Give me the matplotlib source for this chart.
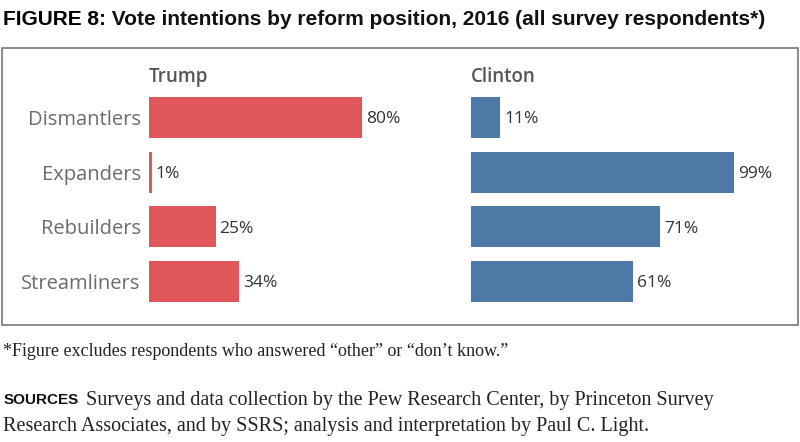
import matplotlib
matplotlib.use("Agg")
from matplotlib import pyplot as plt
from matplotlib.patches import Rectangle

categories = ["Dismantlers", "Expanders", "Rebuilders", "Streamliners"]
trump = [80, 1, 25, 34]
clinton = [11, 99, 71, 61]
candidates = ["Trump", "Clinton"]
colors = ["#E15759", "#4E79A7"]

fig = plt.figure(figsize=(8, 4.42), dpi=100)
renderer = fig.canvas.get_renderer()


def text_after(prev, s, gap_px, **kw):
    # put a text right after another one on the same line
    bb = prev.get_window_extent(renderer=renderer)
    x = (bb.x1 + gap_px) / fig.bbox.width
    return fig.text(x, prev.get_position()[1], s, **kw)


head = "Liberation Sans"
t1 = fig.text(0.004, 0.955, "FIGURE 8", family=head, weight="bold", fontsize=15,
              va="center", ha="left")
text_after(t1, ": Vote intentions by reform position, 2016 (all survey respondents*)", 0,
           family=head, weight="bold", fontsize=15, va="center", ha="left", color="#111111")

# frame around the chart area
fig.patches.append(Rectangle((0.002, 0.265), 0.996, 0.627, transform=fig.transFigure,
                             fill=False, edgecolor="#777777", linewidth=1.2))

lefts = [149 / 800, 471 / 800]
for i, (name, vals) in enumerate(zip(candidates, [trump, clinton])):
    ax = fig.add_axes([lefts[i], 0.3014, 0.3325, 0.4948])
    y = range(len(categories))
    ax.barh(y, vals, height=0.75, color=colors[i])
    ax.set_xlim(0, 100)
    ax.set_ylim(3.5, -0.5)
    for s in ax.spines.values():
        s.set_visible(False)
    ax.set_xticks([])
    if i == 0:
        ax.set_yticks(list(y))
        ax.set_yticklabels(categories, family="Open Sans", fontsize=14.5, color="#6b6b6b",
                           va="center_baseline")
        ax.tick_params(axis="y", length=0, pad=6)
    else:
        ax.set_yticks([])
    for yy, v in zip(y, vals):
        ax.text(v + 1.5, yy, f"{v}%", va="center_baseline", ha="left", family="Open Sans",
                fontsize=12.5, color="#333333")
    ax.text(0, -0.56, name, ha="left", va="bottom", family="Open Sans", fontsize=13.5,
            weight="semibold", color="#555555")

serif = "Liberation Serif"
fig.text(0.004, 0.205, "*Figure excludes respondents who answered \u201cother\u201d or \u201cdon\u2019t know.\u201d",
         family=serif, fontsize=13, va="center", ha="left", color="#222222")
s1 = fig.text(0.004, 0.095, "SOURCES", family=head, weight="bold", fontsize=11,
              va="center", ha="left", color="#111111")
text_after(s1, "Surveys and data collection by the Pew Research Center, by Princeton Survey", 8,
           family=serif, fontsize=14.5, va="center", ha="left", color="#222222")
fig.text(0.004, 0.034, "Research Associates, and by SSRS; analysis and interpretation by Paul C. Light.",
         family=serif, fontsize=14.5, va="center", ha="left", color="#222222")

fig.savefig("out.png", dpi=100)
